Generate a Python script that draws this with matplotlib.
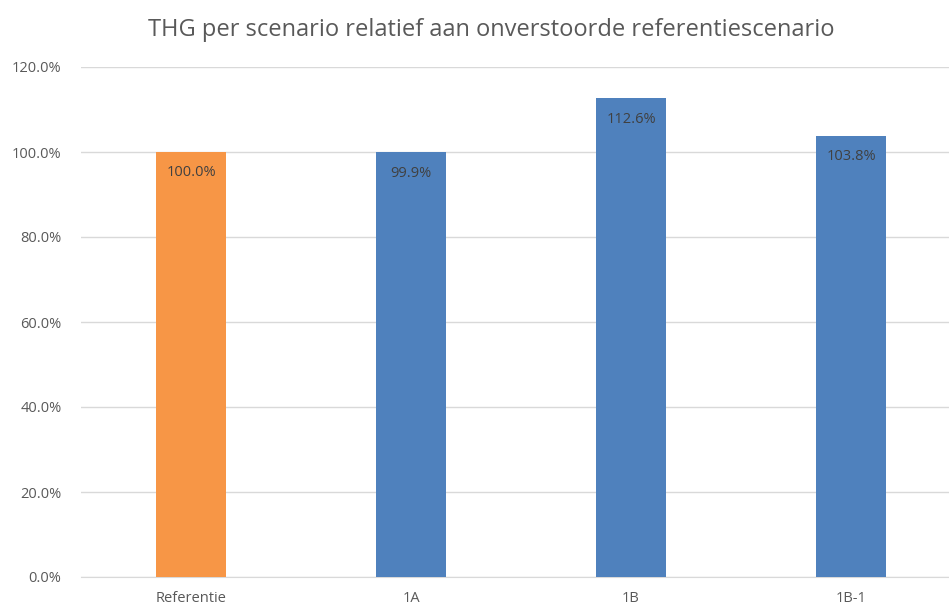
import matplotlib
matplotlib.use("Agg")
import matplotlib.pyplot as plt
from matplotlib.ticker import FuncFormatter

categories = ["Referentie", "1A", "1B", "1B-1"]
values = [100.0, 99.9, 112.6, 103.8]
bar_colors = ["#F79646", "#4F81BD", "#4F81BD", "#4F81BD"]
title = "THG per scenario relatief aan onverstoorde referentiescenario"

plt.rcParams["font.family"] = ["Open Sans", "DejaVu Sans"]

fig = plt.figure(figsize=(9.49, 6.08), dpi=100)
ax = fig.add_axes([81 / 949, (608 - 577) / 608, 868 / 949, 510 / 608])

x = range(len(categories))
bars = ax.bar(x, values, width=0.32, color=bar_colors, zorder=3)

for rect, v in zip(bars, values):
    ax.annotate(f"{v:.1f}%", (rect.get_x() + rect.get_width() / 2, v),
                xytext=(0, -15), textcoords="offset points",
                ha="center", va="center", fontsize=10.5, color="#404040", zorder=4)

ax.set_xlim(-0.5, 3.5 - 12 / 220)
ax.set_ylim(0, 120)
ax.set_yticks(range(0, 121, 20))
ax.yaxis.set_major_formatter(FuncFormatter(lambda v, p: f"{v:.1f}%"))
ax.set_xticks(list(x))
ax.set_xticklabels(categories)
ax.tick_params(axis="both", length=0, labelsize=10.5, colors="#595959")
ax.tick_params(axis="x", pad=10)
ax.tick_params(axis="y", pad=14)

ax.grid(axis="y", color="#D9D9D9", linewidth=1, zorder=0)
for side in ["top", "right", "left"]:
    ax.spines[side].set_visible(False)
ax.spines["bottom"].set_color("#D9D9D9")

fig.text(491 / 949, 1 - 30 / 608, title, ha="center", va="center", fontsize=17, color="#595959")

fig.savefig("out.png", dpi=100)
